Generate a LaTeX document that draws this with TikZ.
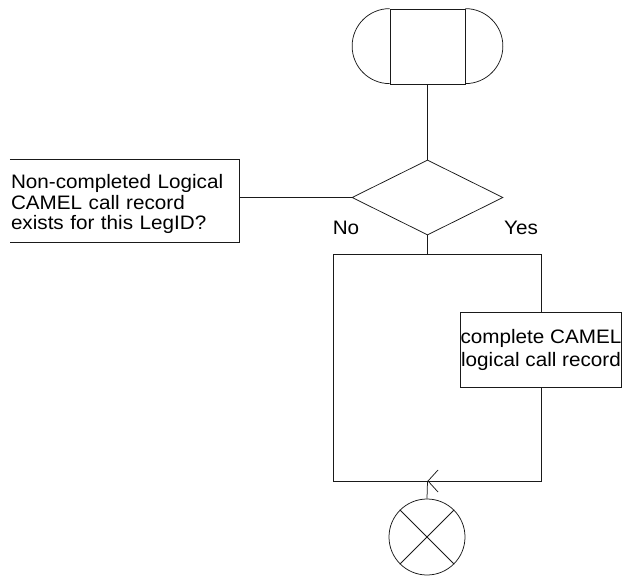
\documentclass[tikz,border=0pt]{standalone}
\usepackage{fontspec}
\setmainfont{Liberation Sans}[FakeStretch=1.06]
\usepackage{tikz}
\usetikzlibrary{arrows.meta,positioning,calc,shapes.geometric}
\definecolor{ink}{HTML}{1A1A1A}
\definecolor{paper}{HTML}{FFFFFF}
\tikzset{
  sdl/.style={draw=ink, line width=0.75pt},
  termbox/.style={sdl, minimum width=75pt, minimum height=75pt, inner sep=0pt},
  decision/.style={sdl, diamond, minimum width=151pt, minimum height=75pt, inner sep=0pt},
  taskbox/.style={sdl, fill=paper, minimum width=152pt, minimum height=75pt, inner sep=0pt,
                  align=center, font=\fontsize{19.5}{23}\selectfont},
  notebox/.style={minimum width=229pt, minimum height=82pt, inner xsep=1pt, inner ysep=0pt,
                  text width=227pt, align=left, font=\fontsize{19.5}{20.5}\selectfont},
  joinc/.style={sdl, circle, minimum size=76pt, inner sep=0pt},
  flowlabel/.style={font=\fontsize{19.5}{21}\selectfont, inner sep=0pt},
  flow/.style={sdl},
  backflow/.style={sdl, -{Straight Barb[length=10pt,width=22pt,line width=0.75pt]}}
}
\begin{document}
\begin{tikzpicture}[x=1pt,y=-1pt]
        \useasboundingbox[fill=paper] (0,0) rectangle (624,578);
        % start symbol
        \node[termbox] (start) at (427.5,46.5) {};
        \draw[sdl] (start.north west) arc (-90:-270:37.5);
        \draw[sdl] (start.north east) arc (-90:90:37.5);
        \node[decision] (ask) at (427.5,197.5) {};
        \node[notebox,yshift=-3pt] (note) at (124.5,201) {Non-completed Logical\\CAMEL call record\\exists for this LegID?};
        \draw[sdl] ([yshift=3pt]note.north west) -- ([yshift=3pt]note.north east)
          -- ([yshift=3pt]note.south east) -- ([yshift=3pt]note.south west);
        \node[taskbox] (task) at (541,349.5) {complete CAMEL\\logical call record};
        \node[joinc] (stop) at (427,537) {};
        \draw[sdl] (stop.north west) -- (stop.south east);
        \draw[sdl] (stop.north east) -- (stop.south west);
        \coordinate (split) at (427.5,254);
        \coordinate (nocorner) at (333,481);
        \coordinate (merge) at (427.5,481);
        \draw[flow] (start.south) -- (ask.north);
        \draw[flow] (note.east |- ask.west) -- (ask.west);
        \draw[flow] (ask.south) -- (split);
        \draw[flow] (split) -| (nocorner) -- (merge);
        \draw[flow] (split) -| (task.north);
        \draw[backflow] (task.south) |- (merge);
        \draw[flow] (merge) -- (stop.north);
        \node[flowlabel] (nolab) at (346,228) {No};
        \node[flowlabel] (yeslab) at (521,228) {Yes};
      \end{tikzpicture}
\end{document}
